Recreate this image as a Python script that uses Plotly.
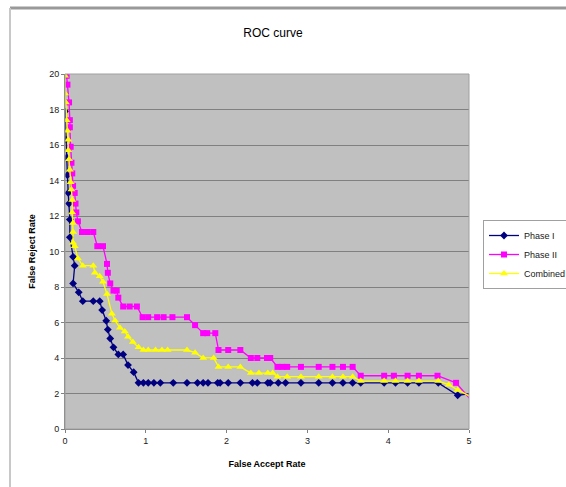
import plotly.graph_objects as go

# ROC curves: false reject rate vs false accept rate
phase1_far = [0.00, 0.01, 0.02, 0.03, 0.04, 0.05, 0.06, 0.06, 0.10, 0.12, 0.10, 0.17, 0.22,
              0.35, 0.43, 0.46, 0.51, 0.53, 0.56, 0.60, 0.66, 0.72, 0.78, 0.85, 0.91,
              0.97, 1.03, 1.10, 1.18, 1.34, 1.51, 1.64, 1.71, 1.77, 1.89, 1.92, 2.02,
              2.17, 2.32, 2.38, 2.51, 2.54, 2.64, 2.73, 2.92, 3.14, 3.31, 3.44, 3.56,
              3.66, 3.95, 4.09, 4.24, 4.38, 4.62, 4.86, 5.05]
phase1_frr = [17.9, 16.3, 15.3, 14.3, 13.3, 12.7, 11.8, 10.8, 9.7, 9.2, 8.2, 7.7, 7.2,
              7.2, 7.2, 6.7, 6.1, 5.6, 5.1, 4.6, 4.2, 4.2, 3.6, 3.2, 2.6,
              2.6, 2.6, 2.6, 2.6, 2.6, 2.6, 2.6, 2.6, 2.6, 2.6, 2.6, 2.6,
              2.6, 2.6, 2.6, 2.6, 2.6, 2.6, 2.6, 2.6, 2.6, 2.6, 2.6, 2.6,
              2.6, 2.6, 2.6, 2.6, 2.6, 2.6, 1.9, 2.0]

phase2_far = [0.02, 0.03, 0.05, 0.06, 0.06, 0.07, 0.08, 0.09, 0.10, 0.12, 0.13, 0.14,
              0.16, 0.21, 0.28, 0.35, 0.40, 0.47, 0.52, 0.53, 0.56, 0.60, 0.64, 0.66,
              0.72, 0.80, 0.89, 0.96, 1.03, 1.14, 1.22, 1.33, 1.51, 1.61, 1.71, 1.76,
              1.86, 1.90, 2.02, 2.17, 2.30, 2.38, 2.50, 2.54, 2.63, 2.69, 2.75, 2.92,
              3.14, 3.31, 3.44, 3.56, 3.66, 3.95, 4.07, 4.24, 4.38, 4.61, 4.84, 5.05]
phase2_frr = [19.9, 19.4, 18.4, 17.4, 17.0, 15.9, 15.0, 14.4, 13.7, 13.3, 12.7, 12.2,
              11.7, 11.1, 11.1, 11.1, 10.3, 10.3, 9.3, 8.8, 8.2, 7.8, 7.8, 7.4,
              6.9, 6.9, 6.9, 6.3, 6.3, 6.3, 6.3, 6.3, 6.3, 5.85, 5.4, 5.4,
              5.4, 4.45, 4.45, 4.45, 4.0, 4.0, 4.0, 4.0, 3.5, 3.5, 3.5, 3.5,
              3.5, 3.5, 3.5, 3.5, 3.0, 3.0, 3.0, 3.0, 3.0, 3.0, 2.6, 1.5]

combined_far = [0.00, 0.00, 0.01, 0.02, 0.03, 0.04, 0.04, 0.05, 0.06, 0.07, 0.08, 0.09,
                0.09, 0.10, 0.10, 0.10, 0.12, 0.16, 0.22, 0.35, 0.37, 0.43, 0.47, 0.52,
                0.58, 0.62, 0.68, 0.74, 0.78, 0.84, 0.91, 0.97, 1.03, 1.12, 1.20, 1.27,
                1.51, 1.61, 1.71, 1.84, 1.90, 2.02, 2.17, 2.30, 2.40, 2.51, 2.57, 2.63,
                2.75, 2.92, 3.14, 3.31, 3.44, 3.56, 3.66, 3.95, 4.09, 4.24, 4.38, 4.62,
                4.75, 4.86, 5.05]
combined_frr = [19.9, 18.9, 18.4, 17.4, 16.8, 16.3, 15.7, 15.2, 14.6, 13.9, 13.5, 12.9,
                12.2, 11.6, 11.1, 10.5, 10.3, 9.6, 9.2, 9.2, 8.8, 8.6, 8.3, 7.6,
                6.5, 6.1, 5.7, 5.5, 5.2, 4.9, 4.6, 4.45, 4.45, 4.45, 4.45, 4.45,
                4.45, 4.3, 4.0, 4.0, 3.5, 3.5, 3.5, 3.15, 3.15, 3.15, 3.15, 2.95,
                2.95, 2.95, 2.95, 2.95, 2.95, 2.95, 2.7, 2.7, 2.7, 2.7, 2.7, 2.7,
                2.5, 2.2, 1.75]

series_names = ["Phase I", "Phase II", "Combined"]

FONT = "Liberation Sans, Arial, sans-serif"

fig = go.Figure()
fig.add_trace(go.Scatter(
    x=phase1_far, y=phase1_frr, name=series_names[0], mode="lines+markers",
    line=dict(color="#000080", width=1.3),
    marker=dict(symbol="diamond", size=6, color="#000080"),
))
fig.add_trace(go.Scatter(
    x=phase2_far, y=phase2_frr, name=series_names[1], mode="lines+markers",
    line=dict(color="#FF00FF", width=1.3),
    marker=dict(symbol="square", size=6, color="#FF00FF"),
))
fig.add_trace(go.Scatter(
    x=combined_far, y=combined_frr, name=series_names[2], mode="lines+markers",
    line=dict(color="#FFFF00", width=1.3),
    marker=dict(symbol="triangle-up", size=7, color="#FFFF00"),
))

# plot area spans x 65..469 px, y 74..429 px
L, R, T, B = 65, 97, 74, 58
W, H = 566, 487
pw, ph = W - L - R, H - T - B

def px_x(p):
    return (p - L) / pw

def px_y(p):
    return (H - B - p) / ph

fig.update_layout(
    width=W, height=H,
    margin=dict(l=L, r=R, t=T, b=B, autoexpand=False),
    paper_bgcolor="white",
    plot_bgcolor="#C0C0C0",
    font=dict(family=FONT, size=9, color="#000000"),
    title=dict(text="ROC curve", x=273 / W, xanchor="center",
               y=1 - 33 / H, yanchor="middle",
               font=dict(family=FONT, size=12, color="#000000")),
    xaxis=dict(range=[0, 5], dtick=1, tick0=0, showgrid=False, zeroline=False,
               showline=True, linecolor="#808080", linewidth=1,
               ticks="outside", ticklen=3, tickcolor="#808080",
               tickfont=dict(size=9, color="#202020"),
               title=dict(text="<b>False Accept Rate</b>", standoff=15,
                          font=dict(size=9, color="#000000"))),
    yaxis=dict(range=[0, 20], dtick=2, tick0=0, showgrid=True, gridcolor="#808080",
               gridwidth=1.3, zeroline=False,
               showline=True, linecolor="#808080", linewidth=1,
               ticks="outside", ticklen=3, tickcolor="#808080",
               tickfont=dict(size=9, color="#202020"),
               title=dict(text="<b>False Reject Rate</b>", standoff=12,
                          font=dict(size=9, color="#000000"))),
    legend=dict(x=px_x(483), y=px_y(220), xanchor="left", yanchor="top",
                bgcolor="white", bordercolor="#A0A0A0", borderwidth=1,
                font=dict(family=FONT, size=9, color="#202020"),
                tracegroupgap=0, itemwidth=30),
    showlegend=True,
    shapes=[
        # chart area frame (top and left edges)
        dict(type="line", xref="paper", yref="paper",
             x0=px_x(10), x1=px_x(600), y0=px_y(8), y1=px_y(8),
             line=dict(color="#999999", width=3)),
        dict(type="line", xref="paper", yref="paper",
             x0=px_x(10), x1=px_x(10), y0=px_y(8), y1=px_y(500),
             line=dict(color="#C8C8C8", width=2)),
        # plot area border
        dict(type="rect", xref="paper", yref="paper", x0=0, x1=1, y0=0, y1=1,
             line=dict(color="#A0A0A0", width=1), layer="above"),
    ],
)

fig.write_html("out.html")
